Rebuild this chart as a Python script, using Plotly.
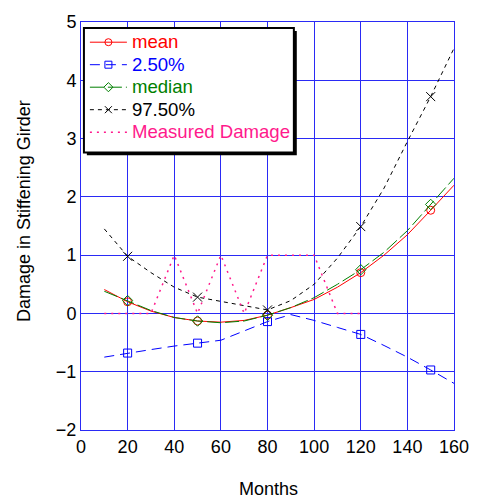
import plotly.graph_objects as go

months = [10, 20, 30, 40, 50, 60, 70, 80, 90, 100, 110, 120, 130, 140, 150, 160]
mean = [0.41, 0.20, 0.04, -0.07, -0.13, -0.15, -0.12, -0.03, 0.10, 0.24, 0.45, 0.70, 1.00, 1.35, 1.77, 2.20]
p025 = [-0.75, -0.68, -0.62, -0.56, -0.51, -0.46, -0.30, -0.14, -0.02, -0.12, -0.24, -0.36, -0.55, -0.75, -0.97, -1.20]
median = [0.38, 0.22, 0.05, -0.07, -0.13, -0.16, -0.13, -0.03, 0.10, 0.27, 0.50, 0.75, 1.05, 1.42, 1.87, 2.32]
p975 = [1.45, 0.98, 0.70, 0.45, 0.28, 0.21, 0.13, 0.06, 0.22, 0.50, 0.95, 1.49, 2.15, 2.95, 3.72, 4.55]
marker_months = [20, 50, 80, 120, 150]
meas_months = [10, 20, 30, 40, 50, 60, 70, 80, 90, 100, 110, 120]
measured = [0, 0, 0, 1, 0, 1, 0, 1, 1, 1, 0, 0]

x_ticks = [0, 20, 40, 60, 80, 100, 120, 140, 160]
y_ticks = [-2, -1, 0, 1, 2, 3, 4, 5]

RED = "#ff0000"
BLUE = "#0000ff"
GREEN = "#007f00"
BLACK = "#000000"
PINK = "#ff1a8c"

fig = go.Figure()

def add(y, name, color, dash, symbol, sz):
    my = [v for m, v in zip(months, y) if m in marker_months]
    fig.add_trace(go.Scatter(x=months, y=y, mode="lines", showlegend=False,
                             line=dict(color=color, width=1, dash=dash)))
    fig.add_trace(go.Scatter(x=marker_months, y=my, mode="markers", showlegend=False,
                             marker=dict(symbol=symbol, size=sz, color=color,
                                         line=dict(color=color, width=1))))
    fig.add_trace(go.Scatter(
        x=[None], y=[None], mode="lines+markers",
        name=f"<span style='font-size:18.6px;color:{color}'>{name}</span>",
        line=dict(color=color, width=1, dash=dash),
        marker=dict(symbol=symbol, size=7, color=color, line=dict(color=color, width=1)),
    ))

add(mean, "mean", RED, "solid", "circle-open", 8)
add(p025, "2.50%", BLUE, "10px,6px", "square-open", 8)
add(median, "median", GREEN, "14px,4px", "diamond-open", 8)
add(p975, "97.50%", BLACK, "4px,4px", "x-thin-open", 9)

fig.add_trace(go.Scatter(
    x=meas_months, y=measured, mode="lines",
    name=f"<span style='font-size:18.6px;color:{PINK}'>Measured Damage</span>",
    line=dict(color=PINK, width=1.5, dash="2px,5px"),
))

grid = "#2a2af5"
PL, PR, PT, PB = 81, 463, 17, 430
W, H = 481, 504

def px2paper_x(px):
    return (px - PL) / (PR - PL)
def px2paper_y(py):
    return (PB - py) / (PB - PT)

# legend frame with drop shadow
lx0, ly0, lx1, ly1 = 84, 23, 299, 149
fig.add_shape(type="rect", xref="paper", yref="paper",
              x0=px2paper_x(lx0 + 3), x1=px2paper_x(lx1 + 3),
              y0=px2paper_y(ly1 + 3), y1=px2paper_y(ly0 + 3),
              fillcolor="black", line=dict(width=0), layer="above")
fig.add_shape(type="rect", xref="paper", yref="paper",
              x0=px2paper_x(lx0), x1=px2paper_x(lx1),
              y0=px2paper_y(ly1), y1=px2paper_y(ly0),
              fillcolor="white", line=dict(color="black", width=2), layer="above")

fig.update_layout(
    width=W, height=H,
    margin=dict(l=PL, r=W - PR, t=PT, b=H - PB),
    paper_bgcolor="white", plot_bgcolor="white",
    font=dict(family="Liberation Sans, Arial", size=18, color="black"),
    showlegend=True,
    legend=dict(x=px2paper_x(lx0 + 1), y=px2paper_y(ly0 - 2), xanchor="left", yanchor="top",
                bgcolor="rgba(0,0,0,0)", borderwidth=0,
                font=dict(size=15), tracegroupgap=0, itemwidth=37),
    xaxis=dict(range=[0, 160], tickvals=x_ticks, showgrid=True, gridcolor=grid,
               gridwidth=1, zeroline=False, showline=True, linecolor=grid,
               mirror=True, ticks="inside", tickcolor=grid, ticklen=5),
    yaxis=dict(range=[-2, 5], tickvals=y_ticks, showgrid=True, gridcolor=grid,
               gridwidth=1, zeroline=False, showline=True, linecolor=grid,
               mirror=True, ticks="inside", tickcolor=grid, ticklen=5),
    annotations=[
        dict(text="Months", xref="paper", yref="paper",
             x=px2paper_x(273), y=px2paper_y(490), xanchor="center", yanchor="middle",
             showarrow=False, font=dict(size=18)),
        dict(text="Damage in Stiffening Girder", xref="paper", yref="paper",
             x=px2paper_x(22), y=px2paper_y(208), xanchor="center", yanchor="middle",
             textangle=-90, showarrow=False, font=dict(size=18)),
    ],
)

fig.write_html("out.html")
